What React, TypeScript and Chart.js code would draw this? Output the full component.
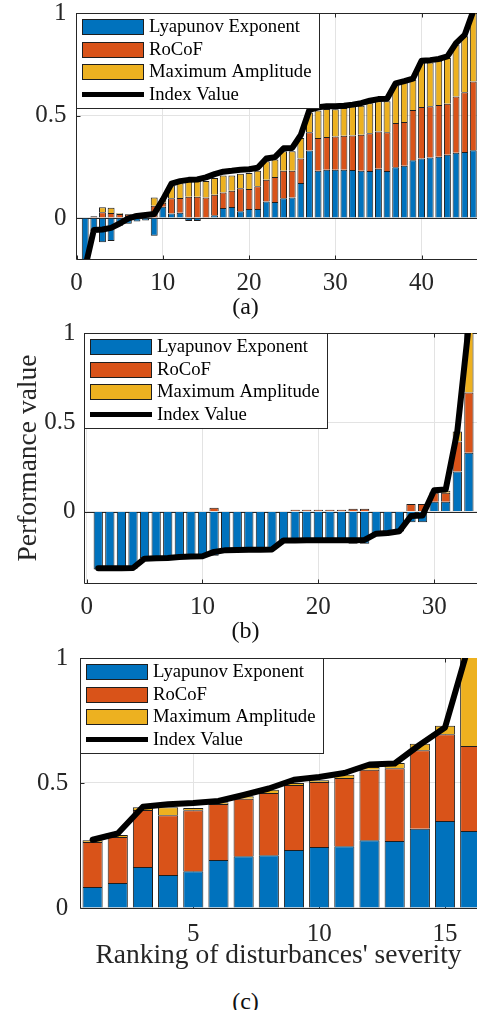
import React, { useEffect, useRef } from 'react';
import { Chart, registerables } from 'chart.js';

Chart.register(...registerables);

// ---------------- shared labels / colours ----------------
const SERIES_LABELS = ['Lyapunov Exponent', 'RoCoF', 'Maximum Amplitude', 'Index Value'];
const SERIES_COLORS = ['#0072BD', '#D95319', '#EDB120', '#000000'];

// ---------------- panel (a) ----------------
const rankA = [1, 2, 3, 4, 5, 6, 7, 8, 9, 10, 11, 12, 13, 14, 15, 16, 17, 18, 19, 20, 21, 22, 23, 24, 25, 26, 27, 28, 29, 30, 31, 32, 33, 34, 35, 36, 37, 38, 39, 40, 41, 42, 43, 44, 45, 46];
const lyapA = [-0.24, -0.065, -0.118, -0.112, -0.038, -0.028, -0.017, -0.012, -0.087, 0.055, 0.022, 0.026, -0.015, -0.015, 0.003, 0.013, 0.049, 0.054, 0.033, 0.044, 0.044, 0.081, 0.078, 0.096, 0.1, 0.171, 0.329, 0.23, 0.235, 0.235, 0.235, 0.234, 0.23, 0.229, 0.24, 0.229, 0.248, 0.255, 0.282, 0.29, 0.295, 0.299, 0.308, 0.318, 0.322, 0.331];
const rocofA = [0, 0.008, 0.028, 0.025, 0.02, 0.018, 0.02, 0.015, 0.06, 0.02, 0.074, 0.071, 0.104, 0.104, 0.097, 0.101, 0.076, 0.079, 0.112, 0.098, 0.111, 0.106, 0.122, 0.135, 0.131, 0.119, 0.089, 0.16, 0.16, 0.163, 0.166, 0.169, 0.176, 0.185, 0.182, 0.189, 0.215, 0.213, 0.245, 0.251, 0.25, 0.252, 0.249, 0.275, 0.292, 0.335];
const ampA = [0, 0, 0.025, 0.025, 0.003, 0.002, 0.002, 0.002, 0.04, 0.012, 0.062, 0.073, 0.076, 0.076, 0.08, 0.081, 0.082, 0.074, 0.071, 0.078, 0.076, 0.09, 0.085, 0.095, 0.095, 0.1, 0.097, 0.135, 0.137, 0.133, 0.135, 0.141, 0.141, 0.146, 0.147, 0.151, 0.184, 0.194, 0.148, 0.218, 0.214, 0.216, 0.223, 0.253, 0.273, 0.35];
const indexA = [-0.24, -0.058, -0.056, -0.048, -0.027, -0.002, 0.01, 0.015, 0.02, 0.09, 0.168, 0.18, 0.186, 0.188, 0.198, 0.214, 0.226, 0.23, 0.235, 0.238, 0.245, 0.29, 0.297, 0.34, 0.342, 0.405, 0.528, 0.54, 0.545, 0.545, 0.548, 0.553, 0.56, 0.572, 0.58, 0.582, 0.657, 0.668, 0.68, 0.767, 0.77, 0.776, 0.788, 0.853, 0.893, 1.01];
const xTicksA = [0, 10, 20, 30, 40];
const yTicksA = [0, 0.5, 1];

// ---------------- panel (b) ----------------
const rankB = [1, 2, 3, 4, 5, 6, 7, 8, 9, 10, 11, 12, 13, 14, 15, 16, 17, 18, 19, 20, 21, 22, 23, 24, 25, 26, 27, 28, 29, 30, 31, 32, 33];
const lyapB = [-0.325, -0.32, -0.32, -0.32, -0.262, -0.26, -0.258, -0.252, -0.25, -0.25, -0.248, -0.214, -0.214, -0.213, -0.213, -0.212, -0.165, -0.172, -0.172, -0.172, -0.172, -0.172, -0.18, -0.18, -0.122, -0.12, -0.112, -0.06, -0.06, 0.055, 0.055, 0.224, 0.33];
const rocofB = [0, 0, 0, 0, 0, 0, 0, 0, 0, 0, 0.022, 0, 0, 0, 0, 0, 0, 0.01, 0.01, 0.01, 0.01, 0.01, 0.016, 0.016, 0, 0, 0, 0.042, 0.042, 0.05, 0.05, 0.168, 0.337];
const ampB = [0, 0, 0, 0, 0, 0, 0, 0, 0, 0, 0, 0, 0, 0, 0, 0, 0, 0, 0, 0, 0, 0, 0, 0, 0, 0, 0, 0, 0, 0.005, 0.012, 0.057, 0.36];
const indexB = [-0.318, -0.318, -0.318, -0.316, -0.264, -0.262, -0.26, -0.254, -0.252, -0.25, -0.226, -0.216, -0.215, -0.214, -0.214, -0.212, -0.162, -0.162, -0.161, -0.161, -0.161, -0.161, -0.161, -0.159, -0.124, -0.12, -0.11, -0.025, -0.022, 0.12, 0.124, 0.45, 1.05];
const xTicksB = [0, 10, 20, 30];
const yTicksB = [0, 0.5, 1];

// ---------------- panel (c) ----------------
const rankC = [1, 2, 3, 4, 5, 6, 7, 8, 9, 10, 11, 12, 13, 14, 15, 16];
const lyapC = [0.084, 0.1, 0.164, 0.132, 0.147, 0.192, 0.207, 0.211, 0.232, 0.244, 0.247, 0.271, 0.268, 0.317, 0.348, 0.308];
const rocofC = [0.18, 0.184, 0.228, 0.239, 0.244, 0.224, 0.23, 0.249, 0.26, 0.26, 0.273, 0.282, 0.291, 0.314, 0.347, 0.34];
const ampC = [0.007, 0.008, 0.011, 0.032, 0.009, 0.007, 0.01, 0.013, 0.008, 0.007, 0.013, 0.011, 0.021, 0.026, 0.034, 0.42];
const indexC = [0.273, 0.298, 0.405, 0.415, 0.42, 0.428, 0.452, 0.478, 0.513, 0.524, 0.54, 0.574, 0.578, 0.653, 0.722, 1.07];
const xTicksC = [5, 10, 15];
const yTicksC = [0, 0.5, 1];

// ---------------- styling ----------------
const FONT = "'Liberation Serif', 'Times New Roman', serif";
const AXIS_COLOR = '#262626';
const GRID_COLOR = '#e3e3e3';
const EDGE_COLOR = '#1e1e1e';
const W = 477;

type PanelSpec = {
  id: string;
  rank: number[];
  lyap: number[];
  rocof: number[];
  amp: number[];
  index: number[];
  xTicks: number[];
  yTicks: number[];
  xMin: number;
  xMax: number;
  yMin: number;
  yMax: number;
  canvasTop: number;
  canvasHeight: number;
  left: number;
  top: number;
  bottom: number;
  padBottom: number;
  xTickPad: number;
  yTickPad: number;
  xTitle?: string;
  yTitle?: string;
  yTitlePad?: number;
};

const PANELS: PanelSpec[] = [
  {
    id: 'a', rank: rankA, lyap: lyapA, rocof: rocofA, amp: ampA, index: indexA,
    xTicks: xTicksA, yTicks: yTicksA, xMin: -0.07, xMax: 46.43, yMin: -0.2, yMax: 1,
    canvasTop: -20, canvasHeight: 320, left: 76, top: 13, bottom: 259, padBottom: 0,
    xTickPad: 9, yTickPad: 9.5,
  },
  {
    id: 'b', rank: rankB, lyap: lyapB, rocof: rocofB, amp: ampB, index: indexB,
    xTicks: xTicksB, yTicks: yTicksB, xMin: -0.23, xMax: 33.7, yMin: -0.4, yMax: 1,
    canvasTop: 305, canvasHeight: 320, left: 84, top: 333, bottom: 583, padBottom: 0,
    xTickPad: 9.7, yTickPad: 8.5, yTitle: 'Performance value', yTitlePad: 12.5,
  },
  {
    id: 'c', rank: rankC, lyap: lyapC, rocof: rocofC, amp: ampC, index: indexC,
    xTicks: xTicksC, yTicks: yTicksC, xMin: 0.5, xMax: 16.27, yMin: 0, yMax: 1,
    canvasTop: 628, canvasHeight: 357, left: 80, top: 658, bottom: 908, padBottom: 12.8,
    xTickPad: 11.7, yTickPad: 11.8, xTitle: "Ranking of disturbances' severity",
  },
];

const CAPTIONS = [
  { text: '(a)', center: 308 },
  { text: '(b)', center: 632 },
  { text: '(c)', center: 1003 },
];

function drawLegend(ctx: CanvasRenderingContext2D, left: number, top: number) {
  ctx.save();
  const bx = left + 0.5;
  const by = top + 0.5;
  ctx.fillStyle = '#ffffff';
  ctx.fillRect(bx, by, 243, 95);
  ctx.strokeStyle = AXIS_COLOR;
  ctx.lineWidth = 1;
  ctx.strokeRect(bx, by, 243, 95);
  ctx.font = `18.7px ${FONT}`;
  ctx.textBaseline = 'middle';
  ctx.textAlign = 'left';
  for (let i = 0; i < 3; i++) {
    const sx = Math.round(left + 6);
    const sy = Math.round(top + 6 + 22.6 * i);
    ctx.fillStyle = SERIES_COLORS[i];
    ctx.fillRect(sx, sy, 62, 16);
    ctx.strokeStyle = EDGE_COLOR;
    ctx.lineWidth = 1;
    ctx.strokeRect(sx + 0.5, sy + 0.5, 61, 15);
    ctx.fillStyle = '#000000';
    ctx.fillText(SERIES_LABELS[i], left + 73, sy + 8.5);
  }
  const ly = top + 81.6;
  ctx.strokeStyle = SERIES_COLORS[3];
  ctx.lineWidth = 5;
  ctx.lineCap = 'butt';
  ctx.beginPath();
  ctx.moveTo(left + 6, ly);
  ctx.lineTo(left + 68, ly);
  ctx.stroke();
  ctx.fillStyle = '#000000';
  ctx.fillText(SERIES_LABELS[3], left + 73, ly);
  ctx.restore();
}

function buildConfig(p: PanelSpec): any {
  const pts = (vals: number[]) => p.rank.map((r, i) => ({ x: r, y: vals[i] }));
  const barDs = (label: string, vals: number[], color: string) => ({
    type: 'bar',
    label,
    data: pts(vals),
    backgroundColor: color,
    borderColor: EDGE_COLOR,
    borderWidth: 1,
    stack: 'parts',
    barPercentage: 0.8,
    categoryPercentage: 1,
    clip: 0,
    order: 1,
  });
  const xAxisH = p.canvasTop + p.canvasHeight - p.padBottom - p.bottom;

  const decor = {
    id: 'decor_' + p.id,
    beforeDatasetsDraw(chart: any) {
      const { ctx, chartArea: a, scales } = chart;
      const xs = scales.x;
      const ys = scales.y;
      ctx.save();
      ctx.strokeStyle = AXIS_COLOR;
      ctx.lineWidth = 1;
      const seg = (x1: number, y1: number, x2: number, y2: number) => {
        ctx.beginPath();
        ctx.moveTo(x1, y1);
        ctx.lineTo(x2, y2);
        ctx.stroke();
      };
      const L = Math.round(a.left) + 0.5;
      const T = Math.round(a.top) + 0.5;
      const B = Math.round(a.bottom) + 0.5;
      if (p.yMin < 0) {
        const y0 = Math.round(ys.getPixelForValue(0)) + 0.5;
        seg(a.left, y0, a.right, y0);
      }
      seg(L, T, L, B);
      seg(L, T, a.right, T);
      seg(L, B, a.right, B);
      for (const v of p.xTicks) {
        const x = Math.round(xs.getPixelForValue(v)) + 0.5;
        seg(x, B, x, B - 4);
        seg(x, T, x, T + 4);
      }
      for (const v of p.yTicks) {
        const y = Math.round(ys.getPixelForValue(v)) + 0.5;
        seg(L, y, L + 4, y);
      }
      ctx.restore();
    },
    afterDatasetsDraw(chart: any) {
      const a = chart.chartArea;
      drawLegend(chart.ctx, Math.round(a.left), Math.round(a.top));
    },
  };

  const tickFont = { family: FONT, size: 25 };
  const titleFont = { family: FONT, size: 27.5 };

  return {
    type: 'bar',
    data: {
      datasets: [
        barDs(SERIES_LABELS[0], p.lyap, SERIES_COLORS[0]),
        barDs(SERIES_LABELS[1], p.rocof, SERIES_COLORS[1]),
        barDs(SERIES_LABELS[2], p.amp, SERIES_COLORS[2]),
        {
          type: 'line',
          label: SERIES_LABELS[3],
          data: pts(p.index),
          borderColor: SERIES_COLORS[3],
          backgroundColor: SERIES_COLORS[3],
          borderWidth: 6,
          pointRadius: 0,
          pointHoverRadius: 0,
          tension: 0,
          fill: false,
          stack: 'index',
          clip: 0,
          order: 0,
          borderJoinStyle: 'round',
          borderCapStyle: 'round',
        },
      ],
    },
    options: {
      responsive: false,
      maintainAspectRatio: false,
      animation: false,
      events: [],
      layout: { padding: { top: p.top - p.canvasTop, bottom: p.padBottom, left: 0, right: 0 } },
      plugins: { legend: { display: false }, tooltip: { enabled: false }, title: { display: false } },
      scales: {
        x: {
          type: 'linear',
          position: 'bottom',
          min: p.xMin,
          max: p.xMax,
          stacked: true,
          offset: false,
          grid: { color: GRID_COLOR, lineWidth: 1, drawTicks: false, offset: false },
          border: { display: false },
          ticks: {
            font: { ...tickFont },
            color: AXIS_COLOR,
            padding: p.xTickPad,
            maxRotation: 0,
            autoSkip: false,
            includeBounds: false,
            callback: (v: any) => String(v),
          },
          afterBuildTicks: (s: any) => {
            s.ticks = p.xTicks.map((v) => ({ value: v }));
          },
          afterFit: (s: any) => {
            s.height = xAxisH;
          },
          title: p.xTitle
            ? { display: true, text: p.xTitle, font: titleFont, color: AXIS_COLOR, padding: { top: 0, bottom: 0 } }
            : { display: false },
        },
        y: {
          type: 'linear',
          position: 'left',
          min: p.yMin,
          max: p.yMax,
          stacked: true,
          grid: { color: GRID_COLOR, lineWidth: 1, drawTicks: false },
          border: { display: false },
          ticks: {
            font: { ...tickFont },
            color: AXIS_COLOR,
            padding: p.yTickPad,
            includeBounds: false,
            callback: (v: any) => String(v),
          },
          afterBuildTicks: (s: any) => {
            s.ticks = p.yTicks.map((v) => ({ value: v }));
          },
          afterFit: (s: any) => {
            s.width = p.left;
          },
          title: p.yTitle
            ? { display: true, text: p.yTitle, font: titleFont, color: AXIS_COLOR, padding: { top: p.yTitlePad ?? 0, bottom: 0 } }
            : { display: false },
        },
      },
    },
    plugins: [decor],
  };
}

function Panel({ p }: { p: PanelSpec }) {
  const ref = useRef<HTMLCanvasElement | null>(null);
  useEffect(() => {
    const canvas = ref.current;
    if (!canvas) return;
    const chart = new Chart(canvas, buildConfig(p));
    return () => chart.destroy();
  }, [p]);
  return (
    <canvas
      ref={ref}
      width={W}
      height={p.canvasHeight}
      style={{ position: 'absolute', left: 0, top: p.canvasTop, width: W, height: p.canvasHeight }}
    />
  );
}

export default function App() {
  return (
    <div
      style={{
        position: 'absolute',
        left: 0,
        top: 0,
        width: W,
        height: 1010,
        overflow: 'hidden',
        background: '#ffffff',
      }}
    >
      {PANELS.map((p) => (
        <Panel key={p.id} p={p} />
      ))}
      {CAPTIONS.map((c) => (
        <div
          key={c.text}
          style={{
            position: 'absolute',
            left: 0,
            width: 491,
            top: c.center - 16.5,
            height: 28,
            lineHeight: '28px',
            textAlign: 'center',
            fontFamily: FONT,
            fontSize: 24,
            color: '#111111',
          }}
        >
          {c.text}
        </div>
      ))}
    </div>
  );
}
